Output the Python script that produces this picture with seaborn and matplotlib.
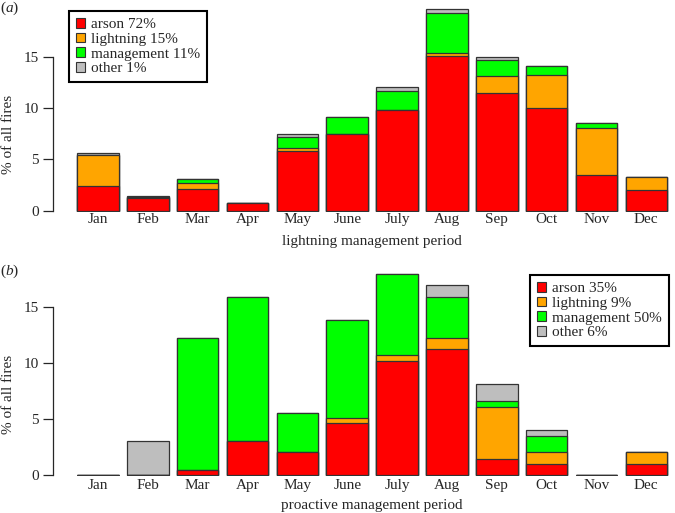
import numpy as np
import matplotlib
matplotlib.use("Agg")
import matplotlib.pyplot as plt
import matplotlib.patches as mpatches
import seaborn as sns

sns.set_style("ticks")
plt.rcParams["font.family"] = ["Liberation Serif", "DejaVu Serif"]
plt.rcParams["mathtext.fontset"] = "custom"
plt.rcParams["mathtext.it"] = "Liberation Serif:italic"
plt.rcParams["mathtext.rm"] = "Liberation Serif"

# ===============================
# DATA (% of all fires, by month and cause)
# ===============================
months = ["Jan", "Feb", "Mar", "Apr", "May", "June", "July", "Aug", "Sep", "Oct", "Nov", "Dec"]
causes = ["arson", "lightning", "management", "other"]
colores = ["#FF0000", "#FFA500", "#00FF00", "#BEBEBE"]

# (a) lightning management period
arson_a = [2.4, 1.27, 2.15, 0.75, 5.8, 7.45, 9.8, 15.1, 11.45, 10.0, 3.45, 2.0]
lightning_a = [3.0, 0.08, 0.5, 0.0, 0.3, 0.0, 0.0, 0.3, 1.65, 3.2, 4.65, 1.3]
management_a = [0.0, 0.0, 0.45, 0.0, 1.1, 1.65, 1.85, 3.85, 1.6, 0.9, 0.45, 0.0]
other_a = [0.2, 0.08, 0.0, 0.0, 0.25, 0.0, 0.35, 0.4, 0.25, 0.0, 0.0, 0.0]
legend_a = ["arson 72%", "lightning 15%", "management 11%", "other 1%"]

# (b) proactive management period
arson_b = [0.0, 0.0, 0.5, 3.05, 2.05, 4.65, 10.25, 11.3, 1.5, 1.0, 0.0, 1.0]
lightning_b = [0.0, 0.0, 0.0, 0.0, 0.0, 0.45, 0.45, 1.0, 4.6, 1.05, 0.0, 1.05]
management_b = [0.0, 0.0, 11.8, 12.9, 3.55, 8.8, 7.3, 3.65, 0.5, 1.5, 0.0, 0.0]
other_b = [0.0, 3.05, 0.0, 0.0, 0.0, 0.0, 0.0, 1.05, 1.55, 0.5, 0.0, 0.0]
legend_b = ["arson 35%", "lightning 9%", "management 50%", "other 6%"]

W, H = 675, 513
fig = plt.figure(figsize=(W / 100, H / 100), dpi=100)


def px_axes(left, top, right, bottom):
    return fig.add_axes([left / W, 1 - bottom / H, (right - left) / W, (bottom - top) / H])


def barras_apiladas(ax, capas, ylim, xlabel, pad):
    cum = np.cumsum(np.array(capas), axis=0)
    # dibujar de arriba hacia abajo para simular el apilado
    for i in range(len(capas) - 1, -1, -1):
        sns.barplot(x=months, y=cum[i], color=colores[i], saturation=1,
                    width=1 / 1.2, edgecolor="#333333", linewidth=0.9, ax=ax)
    ax.set_xlim(-0.903, 11.576)
    ax.set_ylim(*ylim)
    ax.set_yticks([0, 5, 10, 15])
    for s in ["top", "right", "bottom"]:
        ax.spines[s].set_visible(False)
    ax.spines["left"].set_bounds(0, 15)
    ax.spines["left"].set_linewidth(0.9)
    ax.tick_params(axis="x", length=0, labelsize=11, pad=pad)
    ax.tick_params(axis="y", length=7.2, width=0.9, labelsize=11, pad=3)
    ax.set_ylabel("% of all fires", fontsize=11, va="center")
    ax.set_xlabel(xlabel, fontsize=11, va="center")


def leyenda(ax, etiquetas, anchor, loc):
    handles = [mpatches.Patch(facecolor=c, edgecolor="#333333", linewidth=0.8, label=l)
               for c, l in zip(colores, etiquetas)]
    leg = ax.legend(handles=handles, loc=loc, bbox_to_anchor=anchor,
                    bbox_transform=fig.transFigure, borderaxespad=0, fontsize=11,
                    fancybox=False, framealpha=1, handlelength=0.6, handleheight=0.6,
                    handletextpad=0.4, labelspacing=0.1, borderpad=0.45)
    leg.get_frame().set_edgecolor("black")
    leg.get_frame().set_linewidth(1.5)


# ===============================
# (a)
# ===============================
ax1 = px_axes(53, 0, 675, 211.5)
barras_apiladas(ax1, [arson_a, lightning_a, management_a, other_a], (-0.08, 20.52),
                "lightning management period", 1.2)
ax1.yaxis.set_label_coords((9 - 53) / 622, (211.5 - 134) / 211.5)
ax1.xaxis.set_label_coords((372 - 53) / 622, -29.5 / 211.5)
leyenda(ax1, legend_a, (69.3 / W, 1 - 11 / H), "upper left")

# ===============================
# (b)
# ===============================
ax2 = px_axes(53, 255, 675, 476)
barras_apiladas(ax2, [arson_b, lightning_b, management_b, other_b], (-0.06, 19.67),
                "proactive management period", 2.3)
ax2.yaxis.set_label_coords((9 - 53) / 622, (476 - 394) / 221)
ax2.xaxis.set_label_coords((372 - 53) / 622, -29 / 221)
leyenda(ax2, legend_b, (669 / W, 1 - 275 / H), "upper right")

fig.text(9.5 / W, 1 - 8.5 / H, r"($\it{a}$)", fontsize=11, ha="center", va="center")
fig.text(9.5 / W, 1 - 271 / H, r"($\it{b}$)", fontsize=11, ha="center", va="center")

plt.savefig("out.png", dpi=100)
plt.close()
